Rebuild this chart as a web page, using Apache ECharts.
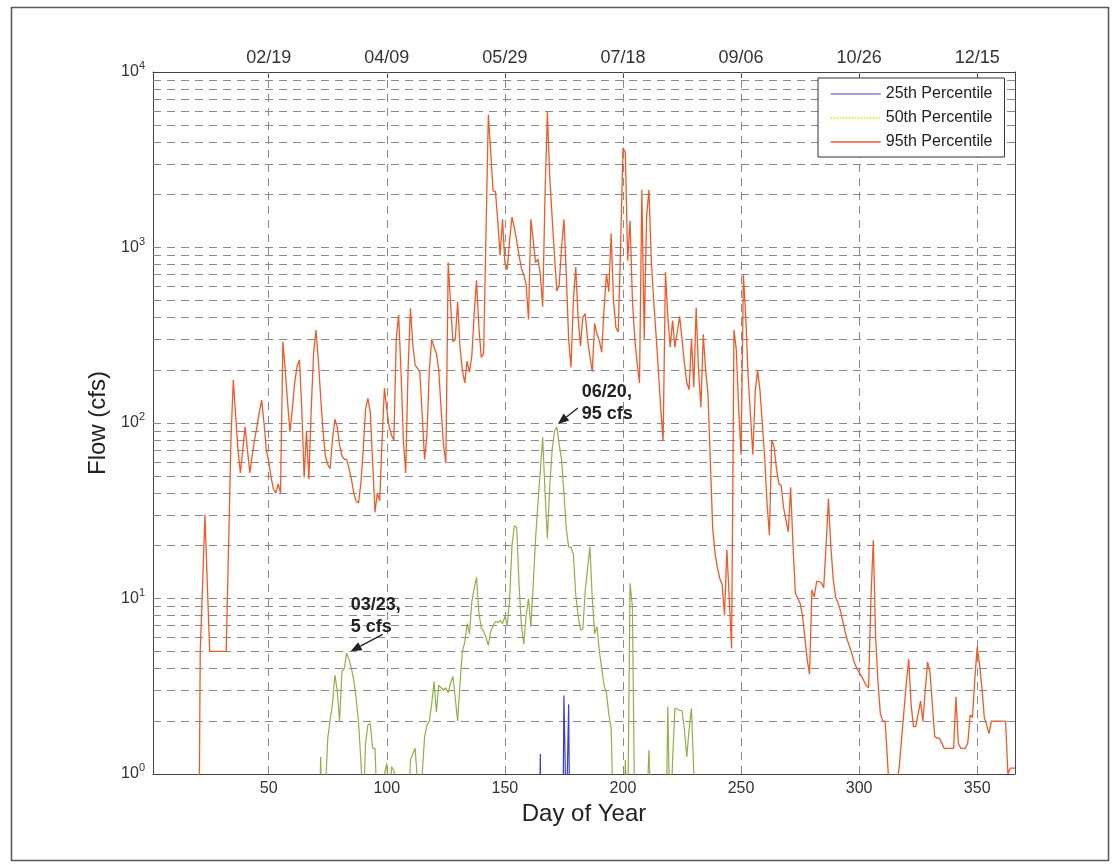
<!DOCTYPE html>
<html><head><meta charset="utf-8">
<script src="https://cdn.jsdelivr.net/npm/echarts@6/dist/echarts.min.js"></script>
<style>html,body{margin:0;padding:0;background:#fff}#c{width:1113px;height:868px}</style>
</head><body><div id="c"></div><script>
// ---------------- DATA ----------------
const seriesNames = ['25th Percentile', '50th Percentile', '95th Percentile'];
const tickDays = [50, 100, 150, 200, 250, 300, 350];
const tickDates = ['02/19', '04/09', '05/29', '07/18', '09/06', '10/26', '12/15'];

const p25 = [[164,0.05],[165,1.3],[166,0.05],[174,0.05],[175,2.8],[176,0.5],[177,2.5],[178,0.05]];

const p50 = [[70,0.05],[71,0.3],[72,1.25],[73,0.3],[74,0.8],[75,1.6],[76,2.03],[77,2.5],[78,3.66],[79,3.0],[80,2.0],
[81,3.83],[82,4.0],[83,4.9],[84,4.5],[85,4.0],[86,3.43],[87,2.7],[88,2.0],[89,1.2],[90,0.6],[91,1.5],[92,1.9],[93,1.94],
[94,1.4],[95,1.4],[96,0.6],[97,0.8],[98,0.7],[99,1.0],[100,1.15],[101,0.6],[102,1.1],[103,1.05],[104,0.8],[105,0.5],
[109,0.5],[110,1.2],[111,1.3],[112,1.4],[113,0.9],[114,0.5],[115,1.0],[116,1.63],[117,1.9],[118,2.0],[119,2.5],[120,3.36],
[121,2.26],[122,3.2],[123,3.1],[124,3.0],[125,3.1],[126,2.9],[127,3.3],[128,3.6],[129,2.7],[130,2.0],[131,3.3],[132,5.0],
[133,5.6],[134,7.2],[135,6.3],[136,9.6],[137,11.5],[138,13.2],[139,8.3],[140,6.8],[141,6.5],[142,6.0],[143,5.4],[144,6.5],
[145,7.0],[146,7.4],[147,7.3],[148,7.5],[149,7.2],[150,7.9],[151,7.0],[152,10],[153,20],[154,26],[155,25.5],[156,12],
[157,7],[158,5.5],[159,8],[160,10],[161,6.9],[162,12],[163,22],[164,35],[165,53],[166,83],[167,40],[168,22],[169,44],
[170,70],[171,90],[172,95],[173,75],[174,62],[175,40],[176,25],[177,19.7],[178,19.6],[179,18],[180,10.5],[181,8],[182,6.6],
[183,6.7],[184,11],[185,14.8],[186,19.7],[187,10],[188,6.3],[189,6.9],[190,5],[191,4],[192,3.2],[193,2.9],[194,2.2],
[195,1.82],[196,0.5],[197,0.2],[200,0.3],[201,1.2],[202,0.5],[203,12.2],[204,9],[205,0.5],[210,0.6],[211,1.37],[212,0.5],
[218,0.3],[219,2.42],[220,0.4],[221,1.2],[222,2.37],[223,2.35],[224,2.3],[225,2.3],[226,1.8],[227,1.25],[228,1.8],[229,2.37],
[230,1.0],[231,0.3]];

const p95 = [[20,0.05],[21,5],[22,12],[23,30],[24,12],[25,5],[26,5],[27,5],[28,5],[29,5],[30,5],[31,5],[32,5],[33,20],[34,80],
[35,176],[36,110],[37,70],[38,52],[39,70],[40,95],[41,70],[42,52],[43,65],[44,80],[45,95],[46,115],[47,135],[48,100],[49,70],
[50,60],[51,49],[52,42],[53,40],[54,45],[55,40],[56,290],[57,200],[58,130],[59,89],[60,120],[61,170],[62,210],[63,229],
[64,120],[65,49],[66,90],[67,48],[68,120],[69,250],[70,339],[71,230],[72,140],[73,90],[74,65],[75,58],[76,55],[77,80],
[78,105],[79,95],[80,75],[81,65],[82,62],[83,62],[84,55],[85,48],[86,40],[87,36],[88,35],[89,45],[90,70],[91,120],[92,138],
[93,115],[94,60],[95,31],[96,40],[97,36],[98,80],[99,158],[100,120],[101,95],[102,85],[103,80],[104,300],[105,412],[106,200],
[107,80],[108,52],[109,200],[110,450],[111,280],[112,214],[113,205],[114,195],[115,110],[116,62],[117,85],[118,200],[119,300],
[120,270],[121,250],[122,200],[123,120],[124,75],[125,59],[126,820],[127,480],[128,290],[129,300],[130,490],[131,270],[132,200],
[133,169],[134,225],[135,195],[136,240],[137,420],[138,650],[139,350],[140,236],[141,250],[142,1200],[143,5700],[144,3500],
[145,2100],[146,2090],[147,1400],[148,900],[149,1450],[150,820],[151,750],[152,1100],[153,1490],[154,1300],[155,1090],[156,900],
[157,760],[158,700],[159,614],[160,389],[161,1450],[162,1100],[163,820],[164,860],[165,700],[166,460],[167,2000],[168,5900],
[169,2500],[170,1490],[171,900],[172,564],[173,614],[174,1000],[175,1450],[176,700],[177,300],[178,207],[179,500],[180,773],
[181,400],[182,275],[183,400],[184,420],[185,300],[186,240],[187,196],[188,370],[189,320],[190,294],[191,253],[192,450],
[193,705],[194,560],[195,1200],[196,500],[197,350],[198,330],[199,1000],[200,3700],[201,3500],[202,840],[203,1420],[204,500],
[205,300],[206,220],[207,169],[208,2130],[209,302],[210,1500],[211,2130],[212,840],[213,500],[214,320],[215,200],[216,120],
[217,79],[218,725],[219,400],[220,270],[221,383],[222,270],[223,330],[224,405],[225,300],[226,220],[227,170],[228,155],
[229,302],[230,160],[231,455],[232,200],[233,123],[234,320],[235,200],[236,146],[237,60],[238,25],[239,18],[240,15],[241,13],
[242,12],[243,8],[244,19],[245,10],[246,5.2],[247,340],[248,260],[249,120],[250,66],[251,697],[252,400],[253,184],[254,110],
[255,66],[256,150],[257,200],[258,154],[259,100],[260,64],[261,35],[262,23],[263,80],[264,73],[265,55],[266,45],[267,44],
[268,33],[269,28],[270,24],[271,43],[272,20],[273,10.7],[274,10],[275,9.4],[276,8],[277,6],[278,4.5],[279,3.7],[280,11.2],
[281,10.2],[282,12.5],[283,12.5],[284,12.3],[285,11.5],[286,20],[287,37],[288,20],[289,13],[290,10.2],[291,9.5],[292,8.6],
[293,7.5],[294,6.5],[295,5.8],[296,5.3],[297,4.8],[298,4.3],[299,4.0],[300,3.8],[301,3.6],[302,3.4],[303,3.2],[304,3.1],
[305,10],[306,21.5],[307,6],[308,3.3],[309,2.2],[310,2.0],[311,2.0],[312,1.2],[313,0.7],[314,0.5],[315,0.6],[316,0.9],
[317,1.1],[318,1.6],[319,2.3],[320,3.3],[321,4.5],[322,2.5],[323,1.86],[324,1.86],[325,2.2],[326,2.6],[327,2.0],[328,3.0],
[329,4.36],[330,3.8],[331,2.5],[332,1.63],[333,1.6],[334,1.6],[335,1.5],[336,1.4],[337,1.4],[338,1.4],[339,1.4],[340,1.4],
[341,2.75],[342,1.5],[343,1.4],[344,1.4],[345,1.4],[346,1.5],[347,2.17],[348,2.1],[349,3.5],[350,5.3],[351,4.2],[352,3.1],
[353,2.1],[354,1.9],[355,1.7],[356,2.0],[357,2.0],[358,2.0],[359,2.0],[360,2.0],[361,2.0],[362,2.0],[363,1.0],[364,1.08],
[365,1.08],[366,1.08]];

const annotations = [
  { day: 83, flow: 5, text: '03/23,\n5 cfs' },
  { day: 172, flow: 95, text: '06/20,\n95 cfs' }
];

// ---------------- LAYOUT / STYLE ----------------
const FONT = '"Liberation Sans", Arial, Helvetica, sans-serif';
const gridColor = '#8a8a8a';
const axisColor = '#444';
const colors = { p25: '#3c3cd0', p50: '#8fb04a', p50legend: '#e6e600', p95: '#f05a28' };
// pixel offsets of arrow tip / tail / text relative to annotated point
const annLayout = [
  { tip: [4, 0], tail: [36, -17], text: [4, -57] },
  { tip: [1, -3], tail: [21, -19], text: [25, -46] }
];

const yGridVals = [];
for (let e = 0; e < 4; e++) for (let m = 1; m <= 9; m++) { const v = m * Math.pow(10, e); if (v > 1) yGridVals.push(v); }

const chart = echarts.init(document.getElementById('c'), null, { renderer: 'canvas' });

const supFmt = v => '{b|10}{s|' + Math.round(Math.log10(v)) + '}';
const hideSym = { opacity: 0, color: 'rgba(0,0,0,0)', borderWidth: 0 };

const option = {
  animation: false,
  backgroundColor: '#fff',
  textStyle: { fontFamily: FONT },
  grid: { left: 153, top: 72, width: 862, height: 702, containLabel: false },
  legend: {
    orient: 'vertical', left: 818, top: 78, z: 50, zlevel: 0,
    padding: [8, 12, 7, 12], itemGap: 8, itemWidth: 50, itemHeight: 14,
    backgroundColor: '#fff', borderColor: '#333', borderWidth: 1,
    textStyle: { fontFamily: FONT, fontSize: 16, color: '#222' },
    data: [
      { name: seriesNames[0], itemStyle: hideSym, lineStyle: { color: colors.p25, width: 1.2, type: 'solid' } },
      { name: seriesNames[1], itemStyle: hideSym, lineStyle: { color: colors.p50legend, width: 1.5, type: 'dotted' } },
      { name: seriesNames[2], itemStyle: hideSym, lineStyle: { color: colors.p95, width: 1.5, type: 'solid' } }
    ]
  },
  xAxis: [
    {
      type: 'value', min: 1, max: 366, position: 'bottom',
      name: 'Day of Year', nameLocation: 'middle', nameGap: 26,
      nameTextStyle: { fontFamily: FONT, fontSize: 24, color: '#222' },
      axisLine: { show: true, lineStyle: { color: axisColor, width: 1 } },
      axisTick: { show: true, inside: true, length: 6, customValues: tickDays, lineStyle: { color: axisColor } },
      axisLabel: { customValues: tickDays, fontFamily: FONT, fontSize: 16, color: '#333', margin: 7 },
      splitLine: { show: false }
    },
    {
      type: 'value', min: 1, max: 366, position: 'top',
      axisLine: { show: true, lineStyle: { color: axisColor, width: 1 } },
      axisTick: { show: true, inside: true, length: 6, customValues: tickDays, lineStyle: { color: axisColor } },
      axisLabel: {
        customValues: tickDays, fontFamily: FONT, fontSize: 18, color: '#333', margin: 5,
        formatter: v => tickDates[tickDays.indexOf(Math.round(v))] || ''
      },
      splitLine: { show: false }
    }
  ],
  yAxis: [
    {
      type: 'log', logBase: 10, min: 1, max: 10000, position: 'left',
      name: 'Flow (cfs)', nameLocation: 'middle', nameGap: 40, nameRotate: 90,
      nameTextStyle: { fontFamily: FONT, fontSize: 24, color: '#222' },
      axisLine: { show: true, lineStyle: { color: axisColor, width: 1 } },
      axisTick: { show: true, inside: true, length: 6, lineStyle: { color: axisColor } },
      axisLabel: {
        formatter: supFmt, margin: 8, color: '#333',
        rich: {
          b: { fontFamily: FONT, fontSize: 16, color: '#333' },
          s: { fontFamily: FONT, fontSize: 11, color: '#333', padding: [0, 0, 12, 0] }
        }
      },
      splitLine: { show: false }
    },
    {
      type: 'log', logBase: 10, min: 1, max: 10000, position: 'right',
      axisLine: { show: true, lineStyle: { color: axisColor, width: 1 } },
      axisTick: { show: true, inside: true, length: 6, lineStyle: { color: axisColor } },
      axisLabel: { show: false },
      splitLine: { show: false }
    }
  ],
  series: [
    {
      name: 'grid', type: 'line', data: [], silent: true, z: 1,
      markLine: {
        silent: true, symbol: 'none', label: { show: false }, animation: false, z: 1,
        lineStyle: { color: gridColor, width: 1, type: [8, 6] },
        data: yGridVals.map(v => ({ yAxis: v })).concat(tickDays.map(d => ({ xAxis: d })))
      }
    },
    {
      name: seriesNames[2], type: 'line', data: p95, symbol: 'none', z: 3, clip: true,
      lineStyle: { color: colors.p95, width: 1.3 }, itemStyle: { color: colors.p95 }
    },
    {
      name: seriesNames[1], type: 'line', data: p50, symbol: 'none', z: 4, clip: true,
      lineStyle: { color: colors.p50, width: 1.2 }, itemStyle: { color: colors.p50 }
    },
    {
      name: seriesNames[0], type: 'line', data: p25, symbol: 'none', z: 5, clip: true,
      lineStyle: { color: colors.p25, width: 1.2 }, itemStyle: { color: colors.p25 }
    }
  ]
};
chart.setOption(option);

// annotations: text + arrows anchored to data points through the axis scales
const g = [];
g.push({ type: 'rect', left: 9, top: 5, shape: { width: 1097, height: 853 }, style: { fill: 'none', stroke: '#555', lineWidth: 1.5 }, silent: true });
annotations.forEach((a, i) => {
  const p = chart.convertToPixel({ xAxisIndex: 0, yAxisIndex: 0 }, [a.day, a.flow]);
  const L = annLayout[i];
  const tip = [p[0] + L.tip[0], p[1] + L.tip[1]];
  const tail = [p[0] + L.tail[0], p[1] + L.tail[1]];
  const dx = tip[0] - tail[0], dy = tip[1] - tail[1];
  const len = Math.sqrt(dx * dx + dy * dy), ux = dx / len, uy = dy / len;
  const hl = 11, hw = 4.5;
  const base = [tip[0] - ux * hl, tip[1] - uy * hl];
  g.push({ type: 'line', shape: { x1: tail[0], y1: tail[1], x2: base[0], y2: base[1] }, style: { stroke: '#222', lineWidth: 1.3 }, z: 20 });
  g.push({ type: 'polygon', shape: { points: [tip, [base[0] - uy * hw, base[1] + ux * hw], [base[0] + uy * hw, base[1] - ux * hw]] }, style: { fill: '#222' }, z: 20 });
  g.push({ type: 'text', x: p[0] + L.text[0], y: p[1] + L.text[1], z: 20,
    style: { text: a.text, fontFamily: FONT, fontSize: 18, fontWeight: 'bold', fill: '#222', lineHeight: 22, align: 'left', verticalAlign: 'top' } });
});
chart.setOption({ graphic: g });
</script></body></html>
